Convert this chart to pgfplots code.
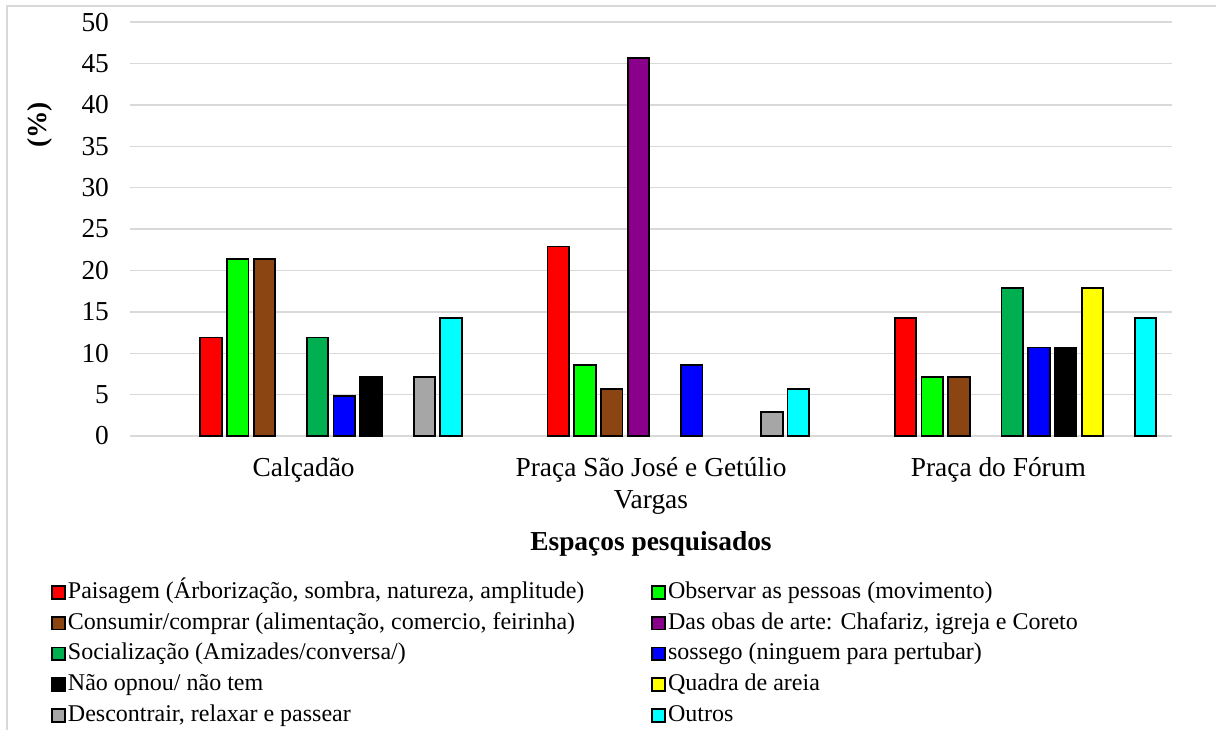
\documentclass[border=0pt]{standalone}
\usepackage{pgfplots}
\pgfplotsset{compat=1.18}
\usepackage{fontspec}
\setmainfont{Liberation Serif}

\definecolor{cPais}{HTML}{FF0000}
\definecolor{cObs}{HTML}{00FF00}
\definecolor{cCons}{HTML}{8B4513}
\definecolor{cArte}{HTML}{8B008B}
\definecolor{cSoc}{HTML}{00B050}
\definecolor{cSoss}{HTML}{0000FF}
\definecolor{cNao}{HTML}{000000}
\definecolor{cQuad}{HTML}{FFFF00}
\definecolor{cDesc}{HTML}{A6A6A6}
\definecolor{cOut}{HTML}{00FFFF}
\definecolor{gridgray}{HTML}{D9D9D9}

\pgfplotsset{
  mybar/.style 2 args={ybar, bar width=0.062, bar shift=#2,
    draw=black, line width=0.9pt, fill=#1,
    legend image code/.code={\draw[fill=#1, draw=black, line width=0.9pt]
      (0pt,-3.2pt) rectangle (6.4pt,3.2pt);}},
}

\begin{document}
\begin{tikzpicture}
\path[use as bounding box] (0,0) rectangle (608pt,-364.5pt);
\draw[gridgray, line width=0.7pt] (3.5pt,-365pt) -- (3.5pt,-3pt) -- (609pt,-3pt);
\begin{axis}[
  at={(65pt,-218pt)}, anchor=south west,
  scale only axis, width=521pt, height=207pt,
  xmin=-0.5, xmax=2.5, ymin=0, ymax=50,
  ytick={0,5,...,50},
  xtick={0,1,2},
  xticklabels={Calçadão, {Praça São José e Getúlio\\Vargas}, Praça do Fórum},
  /pgf/number format/assume math mode=true,
  tick label style={font=\fontsize{13.7}{16}\selectfont},
  xticklabel style={align=center, yshift=-7pt},
  yticklabel style={xshift=-7pt},
  major tick length=0pt,
  axis x line*=bottom, axis y line*=left,
  x axis line style={draw=gridgray, line width=1.1pt},
  y axis line style={draw=none},
  ymajorgrids, grid style={draw=gridgray, line width=0.7pt},
  ylabel={\textbf{(\%)}},
  ylabel style={at={(axis description cs:-0.0864,0.751)}, anchor=center, font=\fontsize{13.7}{16}\selectfont},
  xlabel={\textbf{Espaços pesquisados}},
  xlabel style={at={(axis description cs:0.5,-0.261)}, anchor=center, font=\fontsize{13.7}{16}\selectfont},
  legend columns=2,
  legend cell align=left,
  legend style={at={(axis description cs:-0.0816,-0.3353)}, anchor=north west,
    draw=none, fill=none, font=\fontsize{12}{14}\selectfont,
    nodes={inner sep=1pt, text height=8.5pt, text depth=2.5pt},
    row sep=2.4pt,
    /tikz/every even column/.append style={column sep=32.5pt}},
]
\addplot[mybar={cPais}{-0.267}] coordinates {(0,11.9) (1,22.9) (2,14.3)};
\addlegendentry{Paisagem (Árborização, sombra, natureza, amplitude)}
\addplot[mybar={cObs}{-0.190}] coordinates {(0,21.4) (1,8.6) (2,7.1)};
\addlegendentry{Observar as pessoas (movimento)}
\addplot[mybar={cCons}{-0.113}] coordinates {(0,21.4) (1,5.7) (2,7.1)};
\addlegendentry{Consumir/comprar (alimentação, comercio, feirinha)}
\addplot[mybar={cArte}{-0.036}] coordinates {(1,45.7)};
\addlegendentry{Das obas de arte: Chafariz, igreja e Coreto}
\addplot[mybar={cSoc}{0.040}] coordinates {(0,11.9) (2,17.9)};
\addlegendentry{Socialização (Amizades/conversa/)}
\addplot[mybar={cSoss}{0.117}] coordinates {(0,4.8) (1,8.6) (2,10.7)};
\addlegendentry{sossego (ninguem para pertubar)}
\addplot[mybar={cNao}{0.194}] coordinates {(0,7.1) (2,10.7)};
\addlegendentry{Não opnou/ não tem}
\addplot[mybar={cQuad}{0.271}] coordinates {(2,17.9)};
\addlegendentry{Quadra de areia}
\addplot[mybar={cDesc}{0.348}] coordinates {(0,7.1) (1,2.9)};
\addlegendentry{Descontrair, relaxar e passear}
\addplot[mybar={cOut}{0.424}] coordinates {(0,14.3) (1,5.7) (2,14.3)};
\addlegendentry{Outros}
\end{axis}
\end{tikzpicture}
\end{document}
